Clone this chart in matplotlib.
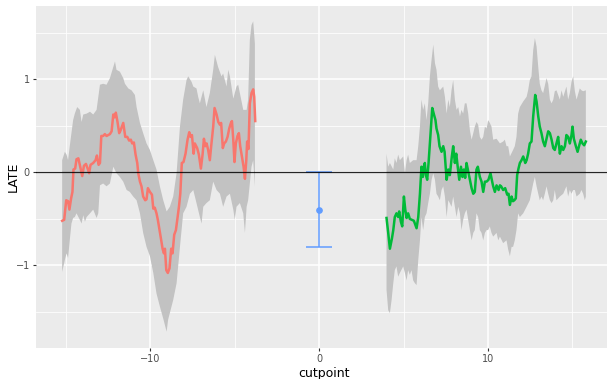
import numpy as np
import matplotlib
matplotlib.use("Agg")
import matplotlib.pyplot as plt

# local average treatment effect by cutpoint, left side of the threshold
left_cut = [-15.23, -15.11, -14.99, -14.88, -14.80, -14.70, -14.62, -14.56, -14.46, -14.38,
            -14.27, -14.16, -14.04, -13.94, -13.82, -13.72, -13.63, -13.55, -13.39, -13.25,
            -13.17, -13.07, -12.99, -12.91, -12.80, -12.70, -12.60, -12.40, -12.30, -12.20,
            -12.12, -12.05, -11.95, -11.85, -11.77, -11.61, -11.49, -11.37, -11.26, -11.16,
            -11.08, -10.98, -10.88, -10.78, -10.72, -10.62, -10.53, -10.43, -10.31, -10.23,
            -10.15, -10.03, -9.91, -9.83, -9.74, -9.64, -9.56, -9.46, -9.36, -9.28,
            -9.20, -9.14, -9.06, -8.97, -8.87, -8.77, -8.69, -8.59, -8.49, -8.41,
            -8.31, -8.23, -8.14, -8.04, -7.92, -7.80, -7.70, -7.62, -7.54, -7.44,
            -7.37, -7.23, -7.13, -7.01, -6.91, -6.83, -6.75, -6.67, -6.58, -6.48,
            -6.40, -6.28, -6.20, -6.08, -5.98, -5.88, -5.81, -5.71, -5.63, -5.53,
            -5.43, -5.33, -5.23, -5.17, -5.09, -5.02, -4.94, -4.84, -4.76, -4.68,
            -4.58, -4.48, -4.40, -4.32, -4.27, -4.19, -4.11, -4.01, -3.91, -3.85, -3.79]
left_late = [-0.52, -0.51, -0.30, -0.31, -0.40, -0.28, -0.21, 0.03, 0.04, 0.14,
             0.15, 0.06, -0.04, 0.07, 0.09, 0.04, -0.01, 0.08, 0.10, 0.13,
             0.18, 0.08, 0.10, 0.39, 0.39, 0.41, 0.39, 0.41, 0.44, 0.62,
             0.59, 0.64, 0.54, 0.42, 0.45, 0.53, 0.38, 0.38, 0.34, 0.35,
             0.31, 0.32, 0.19, 0.10, -0.01, -0.10, -0.15, -0.26, -0.30, -0.29,
             -0.17, -0.21, -0.24, -0.39, -0.38, -0.44, -0.51, -0.62, -0.73, -0.82,
             -0.87, -0.82, -1.05, -1.08, -1.03, -0.82, -0.87, -0.67, -0.62, -0.51,
             -0.37, -0.23, 0.10, 0.11, 0.20, 0.35, 0.43, 0.38, 0.40, 0.20,
             0.31, 0.26, 0.19, 0.04, 0.19, 0.36, 0.28, 0.31, 0.24, 0.13,
             0.28, 0.49, 0.69, 0.62, 0.54, 0.51, 0.53, 0.26, 0.31, 0.33,
             0.38, 0.47, 0.53, 0.55, 0.35, 0.11, 0.31, 0.39, 0.42, 0.28,
             0.17, 0.06, -0.07, 0.13, 0.33, 0.25, 0.74, 0.85, 0.89, 0.81, 0.55]

left_hi_cut = [-15.23, -15.07, -14.97, -14.88, -14.78, -14.68, -14.58, -14.48, -14.34, -14.18,
               -14.08, -13.98, -13.78, -13.58, -13.39, -13.19, -12.99, -12.80, -12.60, -12.40,
               -12.20, -12.10, -12.01, -11.81, -11.61, -11.51, -11.31, -11.12, -10.92, -10.82,
               -10.62, -10.43, -10.23, -10.03, -9.83, -9.64, -9.44, -9.24, -9.04, -8.85,
               -8.65, -8.45, -8.25, -8.06, -7.86, -7.76, -7.56, -7.46, -7.27, -7.17,
               -7.07, -6.87, -6.68, -6.48, -6.28, -6.18, -5.99, -5.79, -5.69, -5.49,
               -5.39, -5.29, -5.09, -4.90, -4.80, -4.70, -4.50, -4.30, -4.21, -4.11,
               -4.01, -3.91, -3.81]
left_hi = [0.13, 0.22, 0.19, 0.13, 0.28, 0.42, 0.56, 0.63, 0.70, 0.67,
           0.54, 0.62, 0.63, 0.65, 0.62, 0.67, 0.94, 0.95, 0.94, 1.01,
           1.13, 1.19, 1.10, 1.08, 1.01, 0.95, 0.90, 0.88, 0.83, 0.70,
           0.53, 0.42, 0.31, 0.24, 0.13, 0.03, -0.15, -0.30, -0.42, -0.37,
           -0.26, -0.01, 0.49, 0.78, 0.99, 1.03, 0.97, 0.92, 0.90, 0.81,
           0.74, 0.88, 0.70, 0.85, 1.10, 1.26, 1.13, 1.03, 1.06, 0.92,
           1.10, 1.03, 0.79, 0.92, 0.94, 0.85, 0.67, 0.67, 0.78, 1.42,
           1.58, 1.62, 1.38]

left_lo_cut = [-15.23, -15.07, -14.97, -14.88, -14.78, -14.68, -14.58, -14.48, -14.38, -14.18,
               -14.08, -13.98, -13.88, -13.78, -13.58, -13.39, -13.19, -13.09, -12.99, -12.80,
               -12.60, -12.40, -12.20, -12.01, -11.81, -11.61, -11.41, -11.22, -11.02, -10.82,
               -10.62, -10.43, -10.23, -10.03, -9.83, -9.64, -9.44, -9.24, -9.04, -8.95,
               -8.85, -8.65, -8.45, -8.25, -8.06, -7.86, -7.66, -7.46, -7.27, -7.07,
               -6.97, -6.87, -6.68, -6.48, -6.28, -6.08, -5.88, -5.69, -5.49, -5.29,
               -5.09, -5.00, -4.90, -4.70, -4.50, -4.40, -4.30, -4.21, -4.01, -3.91, -3.81]
left_lo = [-1.07, -0.94, -0.87, -0.92, -0.73, -0.55, -0.49, -0.48, -0.44, -0.51,
           -0.55, -0.46, -0.53, -0.48, -0.44, -0.40, -0.49, -0.44, -0.14, -0.12,
           -0.15, -0.12, 0.06, -0.01, -0.05, -0.10, -0.19, -0.21, -0.26, -0.30,
           -0.44, -0.65, -0.80, -0.90, -1.08, -1.30, -1.44, -1.57, -1.71, -1.58,
           -1.51, -1.37, -1.19, -0.80, -0.44, -0.37, -0.23, -0.19, -0.33, -0.48,
           -0.55, -0.37, -0.33, -0.30, -0.10, -0.19, -0.23, -0.37, -0.26, -0.23,
           -0.40, -0.51, -0.37, -0.33, -0.44, -0.65, -0.37, -0.30, 0.06, 0.13, -0.15]

# right side of the threshold
right_cut = [3.99, 4.09, 4.19, 4.31, 4.39, 4.48, 4.58, 4.68, 4.74, 4.84,
             4.92, 5.02, 5.10, 5.18, 5.27, 5.37, 5.49, 5.61, 5.77, 5.87,
             5.97, 6.06, 6.14, 6.20, 6.26, 6.32, 6.40, 6.48, 6.60, 6.70,
             6.80, 6.89, 6.95, 7.05, 7.13, 7.25, 7.35, 7.43, 7.55, 7.65,
             7.74, 7.86, 7.94, 8.04, 8.12, 8.22, 8.30, 8.40, 8.49, 8.57,
             8.65, 8.73, 8.83, 8.93, 9.03, 9.13, 9.22, 9.32, 9.40, 9.52,
             9.62, 9.72, 9.82, 9.92, 10.03, 10.15, 10.25, 10.31, 10.41, 10.51,
             10.63, 10.71, 10.78, 10.90, 11.02, 11.14, 11.22, 11.30, 11.40, 11.48,
             11.56, 11.65, 11.73, 11.81, 11.89, 11.99, 12.09, 12.21, 12.29, 12.38,
             12.48, 12.58, 12.68, 12.80, 12.88, 12.98, 13.07, 13.17, 13.27, 13.37,
             13.47, 13.57, 13.67, 13.77, 13.87, 13.96, 14.06, 14.16, 14.26, 14.36,
             14.46, 14.56, 14.65, 14.75, 14.85, 14.95, 15.01, 15.09, 15.21, 15.31,
             15.41, 15.50, 15.60, 15.70, 15.80]
right_late = [-0.49, -0.65, -0.82, -0.71, -0.62, -0.48, -0.44, -0.48, -0.42, -0.53,
              -0.58, -0.26, -0.40, -0.49, -0.44, -0.50, -0.51, -0.52, -0.60, -0.48,
              -0.23, 0.06, -0.05, 0.06, 0.10, -0.03, -0.08, 0.10, 0.42, 0.69,
              0.62, 0.56, 0.47, 0.40, 0.28, 0.22, 0.28, 0.22, -0.08, 0.03,
              -0.03, 0.17, 0.28, 0.10, 0.20, 0.04, -0.08, 0.06, -0.05, 0.03,
              -0.06, 0.10, 0.01, -0.08, -0.17, -0.23, -0.21, 0.03, 0.06, -0.05,
              -0.10, -0.21, -0.10, -0.10, -0.08, -0.01, -0.10, -0.15, -0.21, -0.14,
              -0.19, -0.14, -0.15, -0.19, -0.17, -0.24, -0.23, -0.35, -0.26, -0.31,
              -0.30, -0.28, -0.03, 0.04, 0.10, 0.13, 0.17, 0.10, 0.13, 0.20,
              0.31, 0.33, 0.60, 0.83, 0.76, 0.60, 0.49, 0.42, 0.33, 0.28,
              0.36, 0.44, 0.42, 0.35, 0.26, 0.24, 0.31, 0.38, 0.20, 0.28,
              0.24, 0.28, 0.40, 0.38, 0.31, 0.40, 0.49, 0.36, 0.28, 0.22,
              0.29, 0.35, 0.31, 0.29, 0.33]

right_hi_cut = [3.99, 4.09, 4.19, 4.39, 4.48, 4.58, 4.68, 4.78, 4.98, 5.08,
                5.18, 5.27, 5.37, 5.57, 5.77, 5.87, 5.97, 6.06, 6.16, 6.26,
                6.36, 6.46, 6.56, 6.66, 6.76, 6.86, 6.95, 7.05, 7.15, 7.35,
                7.45, 7.55, 7.65, 7.74, 7.84, 7.94, 8.04, 8.14, 8.24, 8.34,
                8.43, 8.53, 8.63, 8.73, 8.83, 8.93, 9.03, 9.13, 9.22, 9.32,
                9.42, 9.52, 9.62, 9.72, 9.82, 9.92, 10.01, 10.11, 10.21, 10.31,
                10.51, 10.71, 10.90, 11.00, 11.10, 11.20, 11.30, 11.49, 11.59, 11.69,
                11.79, 11.89, 12.09, 12.29, 12.38, 12.48, 12.58, 12.68, 12.78, 12.88,
                12.98, 13.07, 13.17, 13.27, 13.47, 13.57, 13.67, 13.77, 13.87, 13.96,
                14.06, 14.26, 14.36, 14.46, 14.65, 14.75, 14.85, 14.95, 15.05, 15.15,
                15.25, 15.44, 15.54, 15.64, 15.80]
right_hi = [0.20, 0.06, 0.10, 0.03, 0.15, 0.10, 0.19, 0.13, 0.17, -0.01,
            0.13, 0.19, 0.10, 0.13, 0.13, 0.28, 0.49, 0.78, 0.67, 0.74,
            0.56, 0.74, 1.03, 1.21, 1.37, 1.17, 1.10, 0.92, 0.88, 0.92,
            0.81, 0.63, 0.78, 0.70, 0.88, 0.99, 0.78, 0.67, 0.70, 0.60,
            0.67, 0.63, 0.74, 0.74, 0.63, 0.45, 0.35, 0.42, 0.49, 0.54,
            0.51, 0.38, 0.35, 0.38, 0.49, 0.47, 0.56, 0.53, 0.49, 0.35,
            0.36, 0.31, 0.33, 0.35, 0.28, 0.28, 0.17, 0.24, 0.28, 0.38,
            0.63, 0.70, 0.76, 0.81, 0.88, 0.99, 1.03, 1.31, 1.44, 1.35,
            1.13, 0.95, 0.88, 0.85, 1.01, 0.95, 0.78, 0.74, 0.78, 0.87,
            0.88, 0.78, 0.88, 0.81, 0.92, 0.78, 0.85, 0.97, 1.03, 0.87,
            0.78, 0.90, 0.88, 0.87, 0.88]

right_lo_cut = [3.99, 4.09, 4.19, 4.29, 4.39, 4.48, 4.58, 4.68, 4.78, 4.98,
                5.08, 5.18, 5.27, 5.37, 5.47, 5.57, 5.67, 5.77, 5.87, 5.97,
                6.06, 6.16, 6.26, 6.36, 6.46, 6.56, 6.66, 6.76, 6.86, 6.95,
                7.05, 7.15, 7.25, 7.35, 7.45, 7.55, 7.65, 7.74, 7.84, 7.94,
                8.04, 8.14, 8.24, 8.34, 8.43, 8.53, 8.63, 8.73, 8.83, 8.93,
                9.03, 9.13, 9.22, 9.32, 9.42, 9.52, 9.62, 9.72, 9.82, 9.92,
                10.01, 10.11, 10.21, 10.31, 10.51, 10.61, 10.71, 10.90, 11.10, 11.20,
                11.30, 11.40, 11.49, 11.59, 11.69, 11.79, 11.89, 12.09, 12.29, 12.48,
                12.68, 12.78, 12.88, 12.98, 13.07, 13.17, 13.27, 13.37, 13.47, 13.57,
                13.67, 13.77, 13.87, 13.96, 14.06, 14.26, 14.46, 14.65, 14.75, 14.85,
                14.95, 15.05, 15.15, 15.25, 15.44, 15.54, 15.64, 15.74, 15.80]
right_lo = [-1.26, -1.48, -1.51, -1.37, -1.19, -1.05, -1.01, -1.12, -1.08, -1.01,
            -1.08, -1.16, -1.05, -1.10, -1.05, -1.16, -1.19, -1.21, -0.94, -0.73,
            -0.48, -0.62, -0.48, -0.44, -0.33, -0.23, -0.08, -0.01, -0.08, -0.23,
            -0.26, -0.30, -0.19, -0.15, -0.26, -0.48, -0.30, -0.33, -0.37, -0.26,
            -0.37, -0.48, -0.37, -0.44, -0.62, -0.51, -0.44, -0.40, -0.51, -0.62,
            -0.73, -0.65, -0.62, -0.44, -0.48, -0.62, -0.65, -0.73, -0.65, -0.62,
            -0.62, -0.58, -0.65, -0.69, -0.65, -0.73, -0.69, -0.76, -0.73, -0.83,
            -0.90, -0.80, -0.80, -0.73, -0.62, -0.44, -0.48, -0.44, -0.37, -0.30,
            -0.12, -0.05, -0.15, -0.23, -0.30, -0.26, -0.30, -0.23, -0.15, -0.23,
            -0.30, -0.33, -0.30, -0.19, -0.30, -0.26, -0.23, -0.15, -0.26, -0.19,
            -0.23, -0.19, -0.19, -0.26, -0.23, -0.19, -0.23, -0.30, -0.26]

# estimate at the true cutpoint with its interval
cut0 = 0.0
late0 = -0.40
late0_lo = -0.80
late0_hi = 0.0
cap_half = 0.77

W, H = 607, 379
fig = plt.figure(figsize=(W / 100, H / 100), dpi=100)
fig.patch.set_facecolor("white")
ax = fig.add_axes([36 / W, 31.5 / H, 576 / W, 342 / H])
ax.set_facecolor("#EBEBEB")

ribbon = "#C2C2C2"
ax.fill(np.r_[left_hi_cut, left_lo_cut[::-1]], np.r_[left_hi, left_lo[::-1]],
        color=ribbon, lw=0, zorder=2)
ax.fill(np.r_[right_hi_cut, right_lo_cut[::-1]], np.r_[right_hi, right_lo[::-1]],
        color=ribbon, lw=0, zorder=2)

ax.plot(left_cut, left_late, color="#F8766D", lw=1.8, zorder=3)
ax.plot(right_cut, right_late, color="#00BA38", lw=1.8, zorder=3)

ax.vlines(cut0, late0_lo, late0_hi, color="#619CFF", lw=1.1, zorder=3)
ax.hlines([late0_lo, late0_hi], cut0 - cap_half, cut0 + cap_half, color="#619CFF", lw=1.1, zorder=3)
ax.plot([cut0], [late0], "o", color="#619CFF", ms=3.8, zorder=4)

ax.axhline(0, color="black", lw=0.9, alpha=0.85, zorder=3)

ax.set_xlim(-16.78, 17.35)
ax.set_ylim(-1.88, 1.79)

ax.set_xticks([-10, 0, 10])
ax.set_yticks([-1, 0, 1])
ax.set_xticks([-15, -5, 5, 15], minor=True)
ax.set_yticks([-1.5, -0.5, 0.5, 1.5], minor=True)
ax.grid(which="major", color="white", lw=1.1, zorder=0)
ax.grid(which="minor", color="white", lw=0.55, zorder=0)
ax.set_axisbelow(True)
for s in ax.spines.values():
    s.set_visible(False)
ax.tick_params(which="major", length=2.5, width=0.8, color="#333333",
               labelsize=7, labelcolor="#4D4D4D", pad=2)
ax.tick_params(which="minor", length=0)

ax.set_xlabel("cutpoint", fontsize=9, labelpad=2)
ax.set_ylabel("LATE", fontsize=9)
ax.yaxis.set_label_coords(-0.028, 0.5)

fig.savefig("out.png", dpi=100)
